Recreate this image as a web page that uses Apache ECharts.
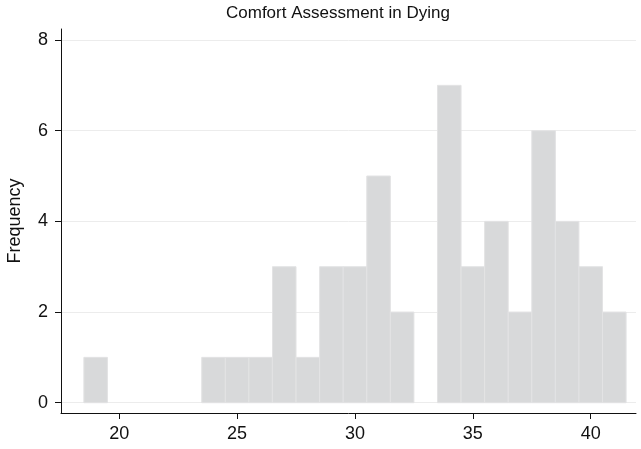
<!DOCTYPE html>
<html>
<head>
<meta charset="utf-8">
<script src="https://cdn.jsdelivr.net/npm/echarts@6/dist/echarts.min.js"></script>
<style>
html,body{margin:0;padding:0;background:#fff;}
#chart{width:641px;height:449px;}
</style>
</head>
<body>
<div id="chart"></div>
<script>
// Histogram data (bin width 1)
const binStarts = [18.5,19.5,20.5,21.5,22.5,23.5,24.5,25.5,26.5,27.5,28.5,29.5,30.5,31.5,32.5,33.5,34.5,35.5,36.5,37.5,38.5,39.5,40.5];
const counts    = [1,0,0,0,0,1,1,1,3,1,3,3,5,2,0,7,3,4,2,6,4,3,2];
const binWidth = 1;
const xTicks = [20,25,30,35,40];
const yTicks = [0,2,4,6,8];
const titleText = 'Comfort Assessment in Dying';
const yName = 'Frequency';

const data = binStarts.map((s,i)=>[s, s+binWidth, counts[i]]);
const font = '"Liberation Sans", Arial, Helvetica, sans-serif';

const chart = echarts.init(document.getElementById('chart'));
chart.setOption({
  animation:false,
  backgroundColor:'#fff',
  title:{text:titleText,left:221,top:0,
    textStyle:{fontFamily:font,fontSize:17,fontWeight:'normal',color:'#111'}},
  grid:{left:61,right:5,top:29,bottom:36,containLabel:false,outerBoundsMode:'none'},
  xAxis:{type:'value',min:17.53,max:41.92,
    axisLine:{show:true,onZero:false,lineStyle:{color:'#111',width:1}},
    axisTick:{show:true,length:6,customValues:xTicks,lineStyle:{color:'#111'}},
    axisLabel:{customValues:xTicks,margin:12,fontFamily:font,fontSize:18,color:'#111'},
    splitLine:{show:false}},
  yAxis:{type:'value',min:-0.227,max:8.243,
    name:yName,nameLocation:'middle',nameGap:37,nameRotate:90,
    nameTextStyle:{fontFamily:font,fontSize:18,color:'#111'},
    axisLine:{show:true,onZero:false,lineStyle:{color:'#111',width:1}},
    axisTick:{show:true,length:6,customValues:yTicks,lineStyle:{color:'#111'}},
    axisLabel:{customValues:yTicks,margin:13,fontFamily:font,fontSize:18,color:'#111'},
    splitLine:{show:true,lineStyle:{color:'#ececec',width:1}}},
  series:[{
    type:'custom',
    data:data,
    encode:{x:[0,1],y:2},
    renderItem:function(params,api){
      const c = api.value(2);
      if(!c) return null;
      const p0 = api.coord([api.value(0), c]);
      const p1 = api.coord([api.value(1), 0]);
      return {type:'rect',
        shape:{x:p0[0],y:p0[1],width:p1[0]-p0[0],height:p1[1]-p0[1]},
        style:{fill:'#d8d9da',stroke:'#e3e3e4',lineWidth:1}};
    }
  }]
});
</script>
</body>
</html>
